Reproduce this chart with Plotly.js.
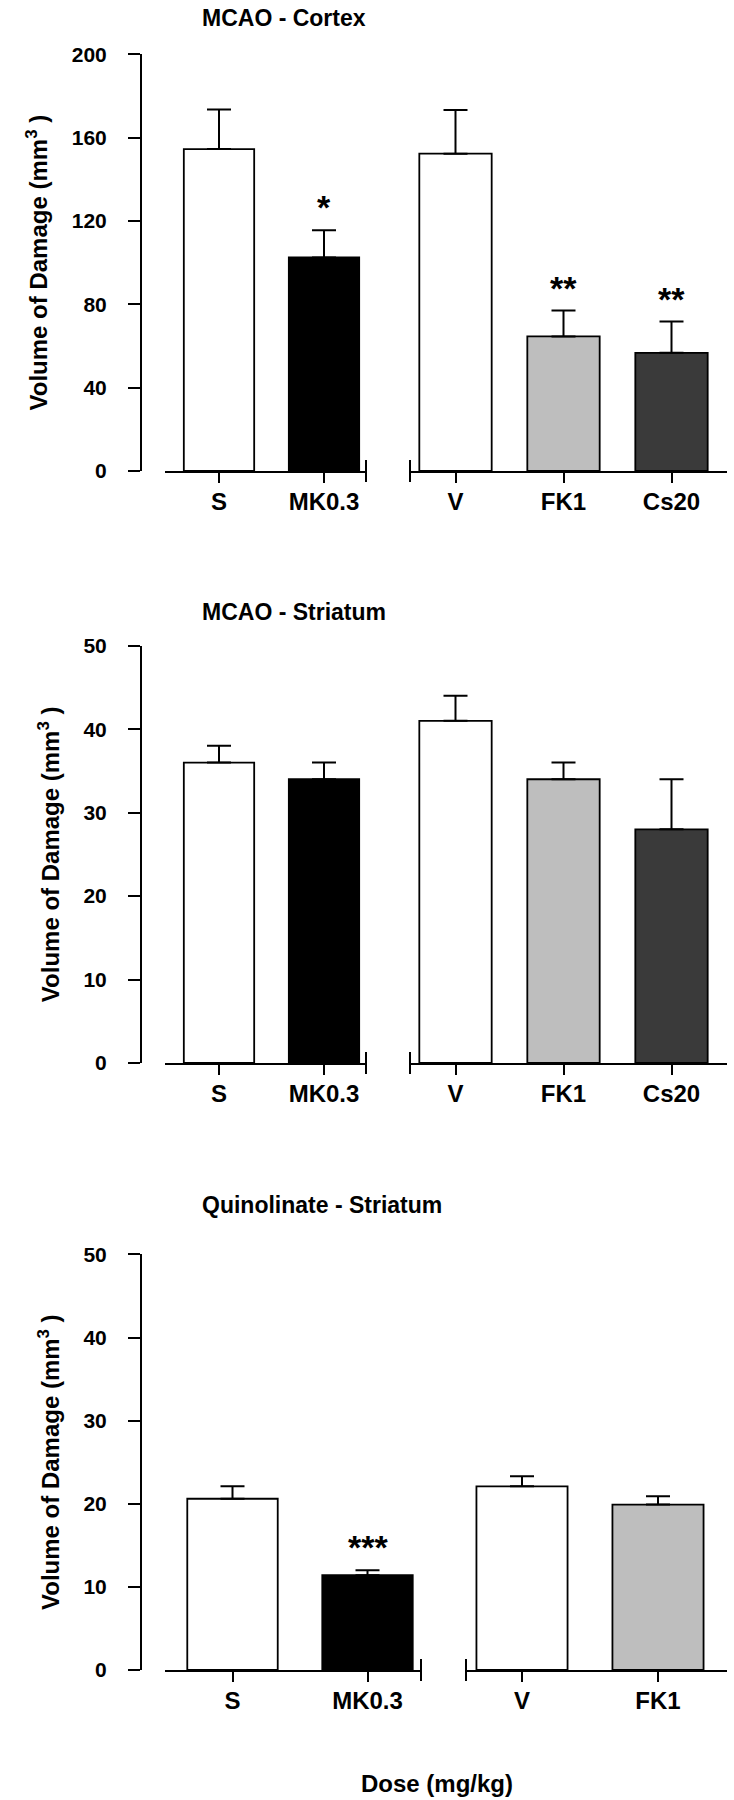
<!DOCTYPE html>
<html>
<head>
<meta charset="utf-8">
<script src="https://cdn.plot.ly/plotly-3.0.1.min.js"></script>
<style>html,body{margin:0;padding:0;background:#fff;}#chart{width:734px;height:1800px;}</style>
</head>
<body>
<div id="chart"></div>
<script>
// ---------------- data ----------------
var panelTitles = ['MCAO - Cortex', 'MCAO - Striatum', 'Quinolinate - Striatum'];
var yTitle = 'Volume of Damage (mm<sup>3</sup> )';
var xTitle = 'Dose (mg/kg)';

var leftGroups = ['S', 'MK0.3'];
var rightGroups3 = ['V', 'FK1', 'Cs20'];
var rightGroups2 = ['V', 'FK1'];

var cortexLeft = [154.5, 102.5];
var cortexLeftErr = [19, 13];
var cortexRight = [152.3, 64.6, 56.7];
var cortexRightErr = [21, 12.4, 15];
var cortexLeftStars = ['', '*'];
var cortexRightStars = ['', '**', '**'];

var striatumLeft = [36, 34];
var striatumLeftErr = [2, 2];
var striatumRight = [41, 34, 28];
var striatumRightErr = [3, 2, 6];

var quinLeft = [20.6, 11.4];
var quinLeftErr = [1.5, 0.6];
var quinRight = [22.1, 19.9];
var quinRightErr = [1.2, 1.0];
var quinLeftStars = ['', '***'];
var quinRightStars = ['', ''];

var yMax = [200, 50, 50];
var yStep = [40, 10, 10];

// ---------------- styling helpers ----------------
var W = 734, H = 1800;
function px(x) { return x / W; }
function py(y) { return 1 - y / H; }
var FONT = 'Liberation Sans, Arial, Helvetica, sans-serif';

var fillFor = {
  'S': '#ffffff',
  'V': '#ffffff',
  'MK0.3': '#000000',
  'FK1': '#bebebe',
  'Cs20': '#3a3a3a'
};

function barTrace(groups, vals, errs, xa, ya) {
  return {
    type: 'bar', x: groups, y: vals, xaxis: xa, yaxis: ya,
    width: 0.67,
    marker: {color: groups.map(function (g) { return fillFor[g]; }), line: {color: '#000', width: 1.8}},
    showlegend: false, hoverinfo: 'skip',
    error_y: {type: 'data', symmetric: false, array: errs, arrayminus: errs.map(function () { return 0; }),
      color: '#000', thickness: 2, width: 12, visible: true}
  };
}

// panel geometry (pixels)
var panels = [
  {yTop: 54.3, yBot: 471, left: [165, 366], leftC: [219, 324], right: [410, 727], rightC: [455.5, 563.5], titleY: 18},
  {yTop: 645.7, yBot: 1063, left: [165, 366], leftC: [219, 324], right: [410, 727], rightC: [455.5, 563.5], titleY: 612},
  {yTop: 1254.4, yBot: 1670, left: [165, 421], leftC: [232.5, 367.5], right: [466, 727], rightC: [522, 658], titleY: 1205}
];

var traces = [
  barTrace(leftGroups, cortexLeft, cortexLeftErr, 'x', 'y'),
  barTrace(rightGroups3, cortexRight, cortexRightErr, 'x2', 'y'),
  barTrace(leftGroups, striatumLeft, striatumLeftErr, 'x3', 'y2'),
  barTrace(rightGroups3, striatumRight, striatumRightErr, 'x4', 'y2'),
  barTrace(leftGroups, quinLeft, quinLeftErr, 'x5', 'y3'),
  barTrace(rightGroups2, quinRight, quinRightErr, 'x6', 'y3')
];

var layout = {
  width: W, height: H,
  margin: {l: 0, r: 0, t: 0, b: 0, pad: 0},
  paper_bgcolor: '#fff', plot_bgcolor: 'rgba(0,0,0,0)',
  font: {family: FONT, color: '#000', weight: 'bold'},
  showlegend: false,
  bargap: 0,
  annotations: [],
  shapes: []
};

function xAxisDef(seg, centers, ya) {
  var unit = centers[1] - centers[0];
  var r0 = (seg[0] - centers[0]) / unit;
  var r1 = (seg[1] - centers[0]) / unit;
  return {
    domain: [px(seg[0]), px(seg[1])], anchor: ya, type: 'category',
    range: [r0, r1], showline: true, linecolor: '#000', linewidth: 2,
    ticks: 'outside', ticklen: 10, tickwidth: 2, tickcolor: '#000',
    showgrid: false, zeroline: false, fixedrange: true,
    tickfont: {family: FONT, size: 24, color: '#000', weight: 'bold'},
    ticklabelstandoff: -2
  };
}

panels.forEach(function (p, i) {
  var yName = i === 0 ? 'yaxis' : 'yaxis' + (i + 1);
  var yRef = i === 0 ? 'y' : 'y' + (i + 1);
  var xlName = i === 0 ? 'xaxis' : 'xaxis' + (2 * i + 1);
  var xrName = 'xaxis' + (2 * i + 2);
  layout[yName] = {
    domain: [py(p.yBot), py(p.yTop)], anchor: 'free', position: px(141),
    range: [0, yMax[i]], dtick: yStep[i], tick0: 0,
    showline: true, linecolor: '#000', linewidth: 2,
    ticks: 'outside', ticklen: 12, tickwidth: 2, tickcolor: '#000',
    showgrid: false, zeroline: false, fixedrange: true,
    tickfont: {family: FONT, size: 21, color: '#000', weight: 'bold'},
    ticklabelstandoff: 17,
    title: {text: yTitle, font: {family: FONT, size: 24, color: '#000', weight: 'bold'}, standoff: 16}
  };
  layout[xlName] = xAxisDef(p.left, p.leftC, yRef);
  layout[xrName] = xAxisDef(p.right, p.rightC, yRef);

  // axis break marks
  var yAx = p.yBot;
  [p.left[1], p.right[0]].forEach(function (xx) {
    layout.shapes.push({type: 'line', xref: 'paper', yref: 'paper',
      x0: px(xx), x1: px(xx), y0: py(yAx - 11), y1: py(yAx + 11),
      line: {color: '#000', width: 2}});
  });

  // panel title
  layout.annotations.push({text: panelTitles[i], xref: 'paper', yref: 'paper',
    x: px(200), y: py(p.titleY), xanchor: 'left', yanchor: 'middle', showarrow: false,
    font: {family: FONT, size: 23, color: '#000', weight: 'bold'}});
});

// significance stars
function addStars(groups, vals, errs, stars, xref, yref) {
  groups.forEach(function (g, k) {
    if (!stars[k]) return;
    layout.annotations.push({text: stars[k], x: g, y: vals[k] + errs[k], xref: xref, yref: yref,
      xanchor: 'center', yanchor: 'bottom', yshift: 2, showarrow: false,
      font: {family: FONT, size: 34, color: '#000', weight: 'bold'}});
  });
}
addStars(leftGroups, cortexLeft, cortexLeftErr, cortexLeftStars, 'x', 'y');
addStars(rightGroups3, cortexRight, cortexRightErr, cortexRightStars, 'x2', 'y');
addStars(leftGroups, quinLeft, quinLeftErr, quinLeftStars, 'x5', 'y3');

// x-axis title
layout.annotations.push({text: xTitle, xref: 'paper', yref: 'paper', x: px(437), y: py(1783),
  xanchor: 'center', yanchor: 'middle', showarrow: false,
  font: {family: FONT, size: 24, color: '#000', weight: 'bold'}});

Plotly.newPlot('chart', traces, layout, {displayModeBar: false, staticPlot: true});
</script>
</body>
</html>
